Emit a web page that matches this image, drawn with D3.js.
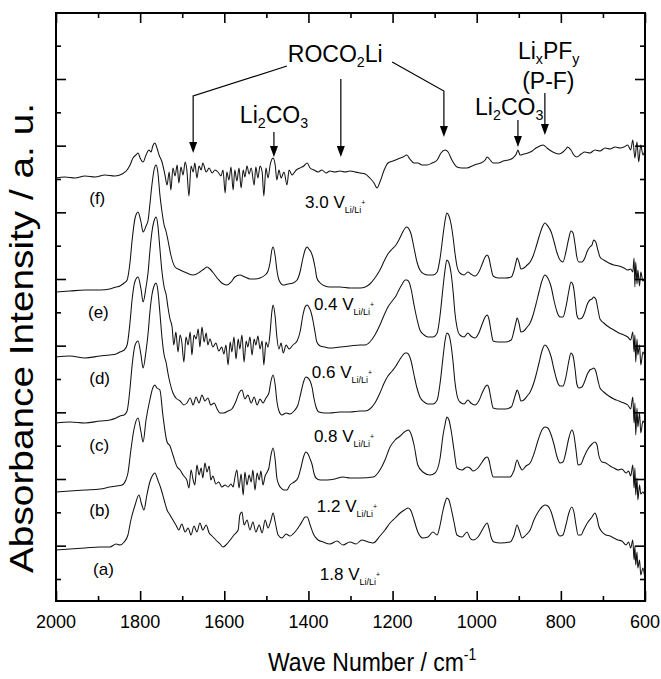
<!DOCTYPE html>
<html><head><meta charset="utf-8">
<script src="https://cdn.jsdelivr.net/npm/d3@7"></script>
<style>
body{margin:0;background:#fff}
svg{display:block}
text{font-family:"Liberation Sans",Arial,Helvetica,sans-serif;fill:#000}
</style>
</head><body>
<svg id="chart" width="661" height="679"></svg>
<script>
// ---------- data ----------
const xMajorTicks = [2000,1800,1600,1400,1200,1000,800,600];
const xMinorTicks = [1900,1700,1500,1300,1100,900,700];
const xTickLabels = ["2000","1800","1600","1400","1200","1000","800","600"];
const spectrumNames = ["(f)","(e)","(d)","(c)","(b)","(a)"];
const potentials = ["3.0","0.4","0.6","0.8","1.2","1.8"];
const offsets = [4.01,2.87,2.22,1.56,0.89,0.29];

const specF = [[2000,0],[1979,.01],[1955,0],[1931,.02],[1907,.01],[1884,.03],[1860,.02],[1843,.04],[1831,.08],[1824,.13],[1817,.20],[1810,.23],[1805,.25],[1800,.20],[1793,.16],[1786,.23],[1779,.28],[1774,.26],[1770,.32],[1765,.35],[1760,.30],[1755,.23],[1748,.16],[1741,.03],[1736,-.07],[1731,.06],[1727,-.12],[1722,.10],[1717,.02],[1712,.13],[1708,-.05],[1703,.11],[1698,.03],[1693,.16],[1689,.08],[1684,-.18],[1679,.12],[1674,.06],[1670,.15],[1665,0],[1660,.12],[1655,.08],[1651,.15],[1643,.06],[1636,.10],[1629,.05],[1622,.08],[1615,.06],[1608,.02],[1603,.08],[1598,-.15],[1594,.06],[1589,-.02],[1584,.11],[1579,-.12],[1575,.08],[1570,-.03],[1565,.10],[1560,-.10],[1555,.08],[1551,.01],[1546,.12],[1541,.04],[1536,.10],[1529,-.07],[1525,.11],[1520,0],[1515,.12],[1510,.06],[1506,-.18],[1501,.10],[1496,0],[1491,.13],[1484,.20],[1479,.13],[1475,-.02],[1470,.08],[1465,0],[1458,.06],[1451,-.07],[1446,.08],[1439,.03],[1429,.08],[1420,.10],[1411,.12],[1403,.15],[1396,.10],[1387,.08],[1377,.06],[1368,.08],[1358,.05],[1349,.07],[1337,.06],[1325,.07],[1313,.06],[1301,.07],[1289,.06],[1277,.05],[1265,.04],[1254,0],[1244,-.05],[1237,-.10],[1230,-.04],[1220,.08],[1211,.15],[1199,.17],[1187,.19],[1175,.21],[1166,.23],[1159,.19],[1149,.15],[1140,.15],[1130,.13],[1118,.13],[1106,.15],[1094,.18],[1085,.25],[1075,.28],[1068,.26],[1059,.18],[1047,.11],[1035,.10],[1023,.10],[1011,.12],[999,.14],[990,.15],[980,.18],[975,.21],[968,.18],[961,.15],[949,.15],[937,.17],[925,.18],[914,.20],[906,.24],[902,.28],[897,.23],[888,.24],[878,.25],[868,.27],[859,.30],[850,.32],[842,.33],[833,.30],[823,.27],[814,.25],[804,.24],[795,.26],[788,.29],[784,.31],[776,.28],[769,.23],[762,.21],[752,.24],[743,.26],[731,.25],[719,.28],[707,.27],[695,.30],[683,.29],[671,.31],[659,.30],[650,.31],[641,.33],[634,.28],[629,.38],[624,.20],[619,.36],[615,.16],[610,.33],[605,.23],[600,.28]];

const specE = [[2000,0],[1967,.01],[1931,.02],[1895,.02],[1872,.03],[1857,.05],[1848,.06],[1838,.09],[1831,.12],[1824,.30],[1819,.52],[1812,.74],[1805,.80],[1798,.70],[1793,.60],[1786,.66],[1781,.72],[1777,.87],[1772,1.07],[1767,1.22],[1762,1.27],[1758,1.20],[1753,.97],[1748,.80],[1743,.67],[1738,.60],[1734,.52],[1727,.37],[1717,.25],[1705,.22],[1689,.19],[1674,.17],[1658,.20],[1648,.23],[1641,.25],[1634,.23],[1624,.18],[1615,.13],[1606,.09],[1594,.07],[1584,.10],[1575,.15],[1563,.17],[1551,.15],[1539,.13],[1527,.13],[1515,.14],[1503,.17],[1496,.21],[1491,.30],[1487,.42],[1484,.45],[1479,.36],[1475,.22],[1470,.12],[1460,.07],[1449,.08],[1437,.09],[1427,.12],[1420,.20],[1413,.34],[1408,.42],[1403,.45],[1399,.43],[1394,.40],[1389,.34],[1384,.24],[1380,.14],[1372,.09],[1361,.06],[1349,.05],[1325,.05],[1301,.04],[1277,.04],[1265,.05],[1254,.08],[1242,.14],[1230,.22],[1220,.31],[1211,.38],[1201,.43],[1192,.47],[1185,.52],[1177,.59],[1170,.64],[1166,.65],[1161,.63],[1156,.58],[1149,.44],[1142,.30],[1135,.22],[1125,.18],[1116,.17],[1104,.17],[1094,.20],[1087,.34],[1080,.57],[1075,.72],[1071,.79],[1066,.76],[1061,.68],[1056,.54],[1052,.40],[1047,.26],[1040,.19],[1030,.17],[1021,.20],[1014,.18],[1004,.16],[995,.20],[987,.28],[980,.35],[975,.37],[971,.34],[966,.24],[961,.16],[949,.14],[932,.14],[918,.15],[911,.22],[906,.31],[904,.34],[899,.29],[895,.23],[888,.24],[880,.27],[873,.30],[866,.36],[859,.45],[852,.55],[845,.64],[838,.69],[831,.66],[823,.60],[816,.50],[809,.39],[802,.32],[795,.30],[788,.40],[781,.54],[776,.61],[771,.59],[766,.47],[762,.35],[757,.30],[750,.30],[743,.34],[737,.41],[731,.45],[726,.47],[722,.52],[717,.50],[712,.42],[707,.35],[698,.32],[686,.29],[674,.27],[662,.26],[650,.24],[641,.22],[634,.23],[629,.20],[626,.34],[624,.05],[622,.30],[619,.08],[617,.22],[613,.06],[610,.20],[605,.11],[600,.13]];

const specD = [[2000,0],[1967,.01],[1931,-.01],[1895,.01],[1872,.02],[1857,.03],[1848,.05],[1838,.07],[1831,.12],[1824,.35],[1819,.58],[1812,.76],[1805,.80],[1798,.68],[1793,.55],[1786,.70],[1781,.85],[1777,1.05],[1772,1.25],[1767,1.36],[1762,1.40],[1758,1.32],[1753,1.08],[1748,.85],[1743,.70],[1738,.62],[1734,.50],[1729,.38],[1724,.30],[1720,.12],[1715,.25],[1710,.05],[1705,.22],[1701,.15],[1696,-.05],[1691,.20],[1686,.12],[1681,.25],[1677,.02],[1672,.22],[1667,.18],[1662,.28],[1658,.10],[1653,.30],[1648,.15],[1643,.24],[1639,.12],[1634,.18],[1627,.10],[1620,.14],[1613,.06],[1606,.10],[1601,.03],[1596,.12],[1591,-.08],[1586,.15],[1582,.05],[1577,.20],[1572,-.02],[1567,.18],[1563,.08],[1558,.22],[1553,-.05],[1548,.16],[1544,.10],[1539,.20],[1534,.02],[1529,.18],[1525,.12],[1520,.21],[1515,.08],[1510,.16],[1506,-.08],[1501,.15],[1496,.10],[1491,.25],[1487,.45],[1484,.52],[1479,.40],[1475,.20],[1470,.08],[1465,.14],[1460,.04],[1453,.12],[1446,.08],[1437,.12],[1427,.16],[1420,.25],[1413,.42],[1408,.50],[1403,.52],[1399,.50],[1394,.45],[1389,.36],[1384,.24],[1380,.15],[1372,.11],[1361,.10],[1349,.09],[1325,.10],[1301,.11],[1277,.12],[1265,.12],[1254,.15],[1242,.22],[1230,.32],[1220,.42],[1211,.50],[1201,.56],[1192,.61],[1185,.67],[1177,.73],[1170,.77],[1166,.77],[1161,.75],[1156,.68],[1149,.52],[1142,.38],[1135,.27],[1125,.22],[1116,.20],[1104,.20],[1094,.24],[1087,.42],[1080,.70],[1075,.88],[1071,.97],[1066,.94],[1061,.84],[1056,.65],[1052,.45],[1047,.30],[1040,.22],[1030,.20],[1021,.24],[1014,.21],[1004,.19],[995,.24],[987,.33],[980,.40],[975,.42],[971,.38],[966,.26],[961,.16],[949,.15],[932,.15],[918,.17],[911,.27],[906,.36],[904,.39],[899,.33],[895,.25],[888,.26],[880,.30],[873,.34],[866,.42],[859,.53],[852,.65],[845,.76],[838,.82],[831,.79],[823,.70],[816,.56],[809,.45],[802,.40],[795,.40],[788,.50],[781,.66],[776,.75],[771,.72],[766,.57],[762,.42],[757,.38],[750,.39],[743,.45],[737,.53],[731,.57],[726,.58],[722,.60],[717,.58],[712,.48],[707,.38],[698,.34],[686,.30],[674,.27],[662,.24],[650,.22],[641,.20],[634,.17],[629,.25],[626,.05],[624,.22],[622,-.05],[619,.18],[617,.02],[613,.12],[610,-.08],[605,.05],[600,0]];

const specC = [[2000,0],[1967,.01],[1931,0],[1895,.02],[1872,.03],[1857,.05],[1848,.07],[1838,.08],[1831,.12],[1824,.35],[1819,.58],[1812,.78],[1805,.82],[1798,.68],[1793,.55],[1786,.72],[1781,.90],[1777,1.10],[1772,1.28],[1767,1.37],[1762,1.40],[1758,1.33],[1753,1.10],[1748,.85],[1743,.68],[1738,.60],[1734,.50],[1729,.40],[1722,.30],[1715,.25],[1705,.22],[1696,.18],[1689,.20],[1681,.25],[1674,.18],[1667,.26],[1660,.20],[1653,.28],[1646,.22],[1639,.25],[1632,.18],[1624,.20],[1617,.14],[1610,.10],[1601,.10],[1591,.12],[1582,.14],[1572,.22],[1565,.30],[1558,.33],[1551,.24],[1544,.28],[1536,.20],[1529,.26],[1522,.18],[1515,.24],[1508,.20],[1501,.25],[1494,.30],[1489,.42],[1484,.48],[1479,.38],[1475,.22],[1470,.12],[1463,.08],[1453,.10],[1444,.09],[1434,.12],[1425,.18],[1418,.30],[1411,.42],[1406,.46],[1401,.45],[1396,.42],[1391,.35],[1387,.25],[1382,.16],[1375,.11],[1361,.10],[1349,.10],[1325,.11],[1301,.11],[1277,.12],[1265,.12],[1254,.14],[1242,.20],[1230,.30],[1220,.40],[1211,.47],[1201,.52],[1192,.57],[1185,.62],[1177,.67],[1170,.70],[1166,.70],[1161,.68],[1156,.62],[1149,.48],[1142,.35],[1135,.26],[1125,.21],[1116,.19],[1104,.19],[1094,.23],[1087,.40],[1080,.66],[1075,.83],[1071,.90],[1066,.88],[1061,.78],[1056,.60],[1052,.42],[1047,.28],[1040,.21],[1030,.19],[1021,.23],[1014,.20],[1004,.18],[995,.22],[987,.30],[980,.36],[975,.38],[971,.35],[966,.24],[961,.15],[949,.14],[932,.14],[918,.16],[911,.24],[906,.31],[904,.33],[899,.28],[895,.22],[888,.23],[880,.27],[873,.31],[866,.38],[859,.48],[852,.60],[845,.72],[838,.78],[831,.75],[823,.66],[816,.53],[809,.42],[802,.37],[795,.37],[788,.46],[781,.62],[776,.70],[771,.67],[766,.53],[762,.39],[757,.35],[750,.36],[743,.42],[737,.49],[731,.53],[726,.54],[722,.55],[717,.52],[712,.43],[707,.35],[698,.31],[686,.27],[674,.24],[662,.22],[650,.20],[641,.18],[634,.14],[629,.26],[626,0],[624,.20],[622,-.12],[619,.15],[617,-.04],[613,.10],[610,-.10],[605,.02],[600,-.02]];

const specB = [[2000,-.02],[1967,-.01],[1931,0],[1895,.01],[1872,.03],[1857,.04],[1843,.05],[1834,.10],[1829,.17],[1822,.40],[1815,.60],[1805,.72],[1798,.58],[1793,.48],[1786,.70],[1777,.90],[1770,1.02],[1765,1.05],[1760,1.02],[1753,1.00],[1746,.75],[1736,.48],[1729,.44],[1722,.35],[1712,.23],[1705,.20],[1698,.15],[1689,.10],[1684,.02],[1679,.20],[1674,.10],[1670,.05],[1665,.25],[1660,.15],[1655,.22],[1651,.12],[1646,.27],[1641,.18],[1636,.24],[1632,.10],[1627,.14],[1620,.06],[1613,.08],[1606,.03],[1598,.05],[1591,.03],[1584,.06],[1579,.03],[1575,.12],[1570,.20],[1565,.02],[1560,.16],[1555,-.05],[1551,.18],[1546,.05],[1541,.15],[1536,.08],[1532,.20],[1527,0],[1522,.17],[1517,.10],[1513,.19],[1508,.05],[1503,.14],[1498,.18],[1494,.22],[1489,.35],[1484,.42],[1479,.30],[1475,.12],[1470,.05],[1465,.02],[1458,0],[1451,0],[1444,.05],[1434,.08],[1425,.12],[1418,.22],[1411,.34],[1406,.38],[1401,.36],[1396,.31],[1391,.25],[1387,.17],[1382,.12],[1372,.10],[1356,.10],[1337,.11],[1318,.13],[1301,.12],[1277,.12],[1246,.13],[1230,.20],[1218,.30],[1206,.43],[1194,.50],[1182,.54],[1172,.58],[1163,.60],[1156,.56],[1149,.45],[1140,.25],[1128,.18],[1111,.15],[1099,.17],[1087,.32],[1080,.55],[1075,.66],[1071,.73],[1066,.70],[1061,.60],[1054,.40],[1047,.22],[1035,.20],[1023,.23],[1016,.22],[1009,.19],[997,.22],[987,.28],[980,.32],[975,.33],[971,.30],[966,.20],[961,.13],[944,.13],[921,.13],[911,.20],[904,.30],[899,.25],[892,.20],[883,.24],[873,.27],[864,.36],[854,.50],[845,.60],[838,.63],[831,.62],[823,.55],[816,.45],[809,.33],[802,.27],[795,.28],[788,.38],[781,.52],[774,.60],[769,.55],[764,.40],[759,.25],[752,.26],[746,.32],[737,.40],[726,.46],[719,.48],[714,.45],[710,.35],[702,.28],[693,.27],[683,.24],[674,.22],[664,.20],[655,.21],[645,.17],[639,.19],[634,.14],[629,.25],[626,.02],[624,.22],[622,-.05],[619,.12],[617,-.10],[613,.05],[610,-.04],[605,-.02],[600,-.06]];

const specA = [[2000,0],[1967,.01],[1931,.02],[1895,.03],[1872,.03],[1857,.06],[1848,.05],[1838,.08],[1829,.15],[1822,.30],[1812,.45],[1803,.55],[1796,.45],[1791,.40],[1784,.55],[1777,.68],[1770,.75],[1765,.77],[1758,.70],[1751,.62],[1743,.50],[1736,.40],[1729,.35],[1722,.30],[1715,.25],[1708,.20],[1701,.26],[1693,.18],[1686,.22],[1679,.15],[1672,.24],[1665,.18],[1658,.27],[1651,.20],[1643,.25],[1636,.17],[1629,.14],[1620,.10],[1610,.06],[1603,.03],[1596,.05],[1586,.10],[1577,.15],[1567,.20],[1563,.35],[1558,.38],[1553,.25],[1546,.30],[1539,.20],[1532,.28],[1525,.18],[1517,.25],[1510,.17],[1503,.30],[1496,.22],[1489,.30],[1484,.37],[1479,.28],[1472,.15],[1463,.12],[1453,.16],[1444,.14],[1432,.18],[1420,.25],[1413,.30],[1408,.33],[1403,.33],[1396,.25],[1387,.15],[1377,.10],[1365,.08],[1349,.06],[1332,.09],[1318,.05],[1301,.08],[1287,.06],[1273,.10],[1258,.08],[1246,.07],[1230,.14],[1218,.20],[1206,.27],[1194,.32],[1182,.37],[1172,.40],[1163,.42],[1156,.39],[1149,.30],[1140,.18],[1128,.12],[1116,.13],[1104,.18],[1094,.15],[1087,.25],[1080,.40],[1075,.48],[1071,.52],[1066,.50],[1061,.42],[1054,.28],[1047,.15],[1035,.13],[1023,.18],[1016,.12],[1009,.10],[997,.13],[987,.20],[980,.25],[975,.27],[971,.22],[966,.13],[959,.08],[944,.07],[921,.08],[911,.15],[904,.25],[899,.20],[892,.12],[883,.15],[873,.20],[864,.30],[854,.38],[845,.43],[838,.45],[831,.44],[823,.38],[816,.28],[809,.18],[802,.14],[795,.15],[788,.25],[781,.37],[774,.43],[769,.38],[764,.25],[759,.15],[752,.15],[746,.20],[737,.27],[726,.33],[719,.37],[714,.32],[710,.24],[702,.18],[693,.15],[683,.14],[674,.12],[664,.10],[655,.09],[645,.05],[639,.08],[634,.02],[629,.10],[626,-.10],[624,.04],[622,-.15],[619,-.02],[617,-.18],[613,-.10],[610,-.25],[605,-.18],[600,-.30]];

const spectra = [specF, specE, specD, specC, specB, specA];

// annotation arrows: polyline points in [wavenumber, a.u.]; last point is the arrow tip
const arrows = [
  [[1451,5.13],[1674,4.83],[1674,4.26]],
  [[1323,5.00],[1323,4.22]],
  [[1201,5.17],[1078,4.88],[1078,4.42]],
  [[1482,4.47],[1482,4.22]],
  [[902,4.59],[902,4.32]],
  [[838,4.86],[838,4.44]]
];

// ---------- layout ----------
const M = {left:56, right:645, top:13, bottom:601};
const svg = d3.select("#chart");
const x = d3.scaleLinear().domain([2000,600]).range([M.left, M.right]);
const y = d3.scaleLinear().domain([-0.22,5.66]).range([M.bottom, M.top]);

const yTicks = d3.range(0, 18).map(k => k/3);

// spectra
const line = d3.line().x(d => x(d[0])).y(d => y(d[1])).curve(d3.curveMonotoneX);
spectra.forEach((s, i) => {
  svg.append("path")
    .datum(s.map(p => [p[0], p[1] + offsets[i]]))
    .attr("d", line)
    .attr("fill","none").attr("stroke","#111").attr("stroke-width",1.05)
    .attr("stroke-linejoin","round");
});

// frame
svg.append("rect").attr("x",M.left).attr("y",M.top)
  .attr("width",M.right-M.left).attr("height",M.bottom-M.top)
  .attr("fill","none").attr("stroke","#000").attr("stroke-width",2);

// axes with inward ticks on all four sides
function ax(gen, tx, ty, vals, size) {
  svg.append("g").attr("transform",`translate(${tx},${ty})`)
    .call(gen.tickValues(vals).tickSize(-size).tickFormat(""));
}
ax(d3.axisBottom(x), 0, M.bottom, xMajorTicks, 10);
ax(d3.axisBottom(x), 0, M.bottom, xMinorTicks, 5);
ax(d3.axisTop(x), 0, M.top, xMajorTicks, 10);
ax(d3.axisTop(x), 0, M.top, xMinorTicks, 5);
const yMajor = yTicks.filter((t,k) => k % 2 === 1);
const yMinor = yTicks.filter((t,k) => k % 2 === 0);
ax(d3.axisLeft(y), M.left, 0, yMajor, 10);
ax(d3.axisLeft(y), M.left, 0, yMinor, 5);
ax(d3.axisRight(y), M.right, 0, yMajor, 10);
ax(d3.axisRight(y), M.right, 0, yMinor, 5);
svg.selectAll(".domain").remove();
svg.selectAll(".tick line").attr("stroke","#000").attr("stroke-width",1.6);

// x tick labels
svg.append("g").selectAll("text").data(xMajorTicks).join("text")
  .attr("x", d => x(d)).attr("y", 628)
  .attr("text-anchor","middle").attr("font-size",18)
  .text((d,i) => xTickLabels[i]);

// axis titles
const xt = svg.append("text").attr("transform","translate(268,671) scale(1,1.12)").attr("font-size",23);
xt.append("tspan").text("Wave Number / cm");
xt.append("tspan").attr("font-size",14).attr("dy",-10).text("-1");

svg.append("text").attr("transform","translate(33,338) rotate(-90)")
  .attr("text-anchor","middle").attr("font-size",34)
  .attr("textLength",470).attr("lengthAdjust","spacingAndGlyphs")
  .text("Absorbance Intensity / a. u.");

// spectrum labels
const nameX = [1921,1924,1921,1921,1921,1912];
const nameY = [3.75,2.61,1.95,1.28,0.63,0.04];
spectrumNames.forEach((n,i) => {
  svg.append("text").attr("x", x(nameX[i])).attr("y", y(nameY[i]))
    .attr("font-size",17).text(n);
});
const potX = [1408,1387,1392,1387,1380,1373];
const potY = [3.71,2.69,2.01,1.37,0.67,-0.01];
potentials.forEach((p,i) => {
  const t = svg.append("text").attr("x", x(potX[i])).attr("y", y(potY[i])).attr("font-size",17);
  t.append("tspan").text(p + " V");
  t.append("tspan").attr("font-size",9).attr("dy",5).text("Li/Li");
  t.append("tspan").attr("font-size",7).attr("dy",-8).text("+");
});

// annotations
function label(xw, yv, parts, size) {
  const t = svg.append("text").attr("x", x(xw)).attr("y", y(yv)).attr("font-size", size);
  let cur = 0;
  parts.forEach(([txt, kind]) => {
    const sp = t.append("tspan").text(txt);
    const target = kind === "sub" ? 5 : 0;
    if (kind === "sub") sp.attr("font-size", size*0.62);
    sp.attr("dy", target - cur);
    cur = target;
  });
}
label(1449, 5.17, [["ROCO",""],["2","sub"],["Li",""]], 23);
label(1563, 4.56, [["Li",""],["2","sub"],["CO",""],["3","sub"]], 23);
label(1004, 4.64, [["Li",""],["2","sub"],["CO",""],["3","sub"]], 23);
label(902, 5.20, [["Li",""],["x","sub"],["PF",""],["y","sub"]], 23);
label(892, 4.90, [["(P-F)",""]], 23);

const aLine = d3.line().x(d => x(d[0])).y(d => y(d[1]));
arrows.forEach(a => {
  const tip = a[a.length-1];
  const shaft = a.slice(0, -1).concat([[tip[0], tip[1] + 0.10]]);
  svg.append("path").attr("d", aLine(shaft)).attr("fill","none")
    .attr("stroke","#000").attr("stroke-width",1.2);
  const tx = x(tip[0]), ty = y(tip[1]);
  svg.append("path").attr("d", `M${tx},${ty} L${tx-4},${ty-11} L${tx+4},${ty-11} Z`).attr("fill","#000");
});
</script>
</body></html>
